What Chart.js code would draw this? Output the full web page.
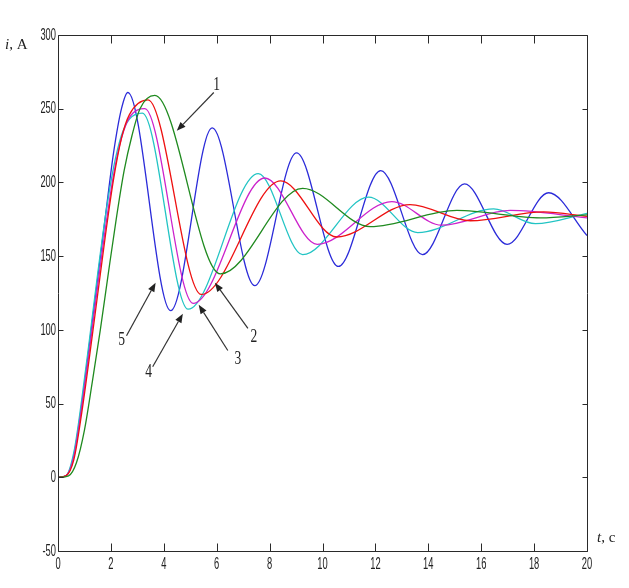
<!DOCTYPE html>
<html><head><meta charset="utf-8">
<script src="https://cdn.jsdelivr.net/npm/chart.js@4.4.1/dist/chart.umd.min.js"></script>
<style>html,body{margin:0;padding:0;background:#fff;} canvas{display:block;}</style>
</head><body>
<canvas id="c" width="629" height="588"></canvas>
<script>
// ---- data (t in s, i in A) ----
const t1 = [0, 0.4, 0.7, 1.0, 1.3, 1.6, 1.9, 2.2, 2.5, 2.8, 3.1, 3.66, 6.14, 9.25, 11.8, 15.08, 18.24, 20];
const i1 = [0, 1, 10, 32, 65, 100, 138, 175, 208, 232, 250, 259, 138, 196, 170, 181, 176, 178];
const t2 = [0, 0.3, 0.6, 0.9, 1.2, 1.5, 1.8, 2.1, 2.4, 2.7, 3.4, 5.42, 8.42, 10.54, 13.31, 15.59, 18.36, 20];
const i2 = [0, 1, 12, 44, 83, 124, 165, 202, 230, 246, 256, 124, 201, 163, 185, 174, 180, 177];
const t3 = [0, 0.3, 0.6, 0.9, 1.2, 1.5, 1.8, 2.1, 2.4, 2.7, 3.28, 5.11, 7.82, 9.8, 12.62, 14.5, 17.1, 20];
const i3 = [0, 1, 14, 48, 88, 130, 170, 205, 230, 244, 250, 118, 203, 158, 187, 171, 181, 176];
const t4 = [0, 0.3, 0.6, 0.9, 1.2, 1.5, 1.8, 2.1, 2.4, 2.7, 3.19, 4.92, 7.57, 9.25, 11.74, 13.6, 16.47, 18.05, 20];
const i4 = [0, 1, 17, 53, 95, 138, 178, 210, 232, 243, 247, 114, 206, 151, 190, 166, 182, 172, 179];
const t5 = [0, 0.3, 0.6, 0.9, 1.2, 1.5, 1.8, 2.1, 2.4, 2.64, 4.26, 5.83, 7.44, 9.02, 10.6, 12.2, 13.78, 15.37, 16.98, 18.55, 20];
const i5 = [0, 1, 15, 50, 92, 135, 178, 220, 250, 261, 113, 237, 130, 220, 143, 208, 151, 199, 158, 193, 164];

const xTicks = [0, 2, 4, 6, 8, 10, 12, 14, 16, 18, 20];
const yTicks = [-50, 0, 50, 100, 150, 200, 250, 300];
const seriesLabels = ['1', '2', '3', '4', '5'];
const xTitle = ['t', ', c'];
const yTitle = ['i', ', A'];
// callouts in data units: label position, arrow start, arrow tip
const callouts = [
  {label: '1', at: [6.0, 266],  from: [5.89, 261], to: [4.49, 235]},
  {label: '2', at: [7.41, 95],  from: [7.18, 101], to: [5.93, 132]},
  {label: '3', at: [6.8, 80],   from: [6.42, 86],  to: [5.32, 117]},
  {label: '4', at: [3.43, 71],  from: [3.58, 75],  to: [4.72, 111]},
  {label: '5', at: [2.41, 93],  from: [2.59, 96],  to: [3.69, 132]}
];

const colors = ['#1f8a1f', '#ee1111', '#cc22cc', '#22c4c4', '#2b2bd9'];
const T = [t1, t2, t3, t4, t5], I = [i1, i2, i3, i4, i5];

const datasets = T.map((ts, k) => ({
  label: seriesLabels[k],
  data: ts.map((t, j) => ({x: t, y: I[k][j]})),
  borderColor: colors[k],
  borderWidth: 1.3,
  pointRadius: 0,
  fill: false,
  cubicInterpolationMode: 'monotone'
}));

function txt(ctx, s, x, y, font, align, sx) {
  ctx.save();
  ctx.font = font;
  ctx.textBaseline = 'middle';
  ctx.textAlign = align;
  ctx.translate(x, y);
  ctx.scale(sx, 1);
  ctx.fillText(s, 0, 0);
  ctx.restore();
}

const frame = {
  id: 'frame',
  afterDraw(chart) {
    const ctx = chart.ctx, a = chart.chartArea;
    const xs = chart.scales.x, ys = chart.scales.y;
    const L = Math.round(a.left) + 0.5, R = Math.round(a.right) + 0.5;
    const Tp = Math.round(a.top) + 0.5, B = Math.round(a.bottom) + 0.5;
    ctx.save();
    ctx.strokeStyle = '#2a2a2a';
    ctx.lineWidth = 1;
    ctx.beginPath();
    ctx.rect(L, Tp, R - L, B - Tp);
    xTicks.forEach(v => {
      const p = Math.round(xs.getPixelForValue(v)) + 0.5;
      ctx.moveTo(p, B); ctx.lineTo(p, B - 8);
      ctx.moveTo(p, Tp); ctx.lineTo(p, Tp + 8);
    });
    yTicks.forEach(v => {
      const p = Math.round(ys.getPixelForValue(v)) + 0.5;
      ctx.moveTo(L, p); ctx.lineTo(L + 5, p);
      ctx.moveTo(R, p); ctx.lineTo(R - 5, p);
    });
    ctx.stroke();
    ctx.fillStyle = '#222';
    const tf = '17px "Liberation Sans", Arial, sans-serif';
    xTicks.forEach(v => txt(ctx, String(v), xs.getPixelForValue(v), B + 13, tf, 'center', 0.55));
    yTicks.forEach(v => txt(ctx, String(v), L - 2.5, ys.getPixelForValue(v), tf, 'right', 0.55));
    // axis titles
    const serif = '"Liberation Serif", "Times New Roman", serif';
    ctx.save();
    ctx.font = 'italic 15px ' + serif;
    const wi = ctx.measureText(yTitle[0]).width;
    ctx.restore();
    txt(ctx, yTitle[0], 5, 45, 'italic 15px ' + serif, 'left', 1);
    txt(ctx, yTitle[1], 5 + wi, 45, '15px ' + serif, 'left', 1);
    ctx.save();
    ctx.font = 'italic 15px ' + serif;
    const wt = ctx.measureText(xTitle[0]).width;
    ctx.restore();
    txt(ctx, xTitle[0], 597, 538, 'italic 15px ' + serif, 'left', 1);
    txt(ctx, xTitle[1], 597 + wt, 538, '15px ' + serif, 'left', 1);
    // callouts
    callouts.forEach(c => {
      const x0 = xs.getPixelForValue(c.from[0]), y0 = ys.getPixelForValue(c.from[1]);
      const x1 = xs.getPixelForValue(c.to[0]), y1 = ys.getPixelForValue(c.to[1]);
      const ang = Math.atan2(y1 - y0, x1 - x0);
      const hl = 9, hw = 3.5;
      const bx = x1 - hl * Math.cos(ang), by = y1 - hl * Math.sin(ang);
      ctx.strokeStyle = '#333';
      ctx.fillStyle = '#222';
      ctx.lineWidth = 1.2;
      ctx.beginPath(); ctx.moveTo(x0, y0); ctx.lineTo(bx, by); ctx.stroke();
      ctx.beginPath();
      ctx.moveTo(x1, y1);
      ctx.lineTo(bx + hw * Math.sin(ang), by - hw * Math.cos(ang));
      ctx.lineTo(bx - hw * Math.sin(ang), by + hw * Math.cos(ang));
      ctx.closePath(); ctx.fill();
      txt(ctx, c.label, xs.getPixelForValue(c.at[0]), ys.getPixelForValue(c.at[1]), '18px ' + serif, 'center', 0.75);
    });
    ctx.restore();
  }
};

new Chart(document.getElementById('c'), {
  type: 'line',
  data: {datasets},
  options: {
    responsive: false,
    animation: false,
    events: [],
    layout: {padding: {top: 35, right: 42, left: 0, bottom: 0}},
    plugins: {legend: {display: false}, tooltip: {enabled: false}},
    scales: {
      x: {type: 'linear', min: 0, max: 20,
          ticks: {display: false, stepSize: 2},
          grid: {display: false}, border: {display: false},
          afterFit: s => { s.height = 37; }},
      y: {type: 'linear', min: -50, max: 300,
          ticks: {display: false, stepSize: 50},
          grid: {display: false}, border: {display: false},
          afterFit: s => { s.width = 58; }}
    }
  },
  plugins: [frame]
});
</script>
</body></html>
